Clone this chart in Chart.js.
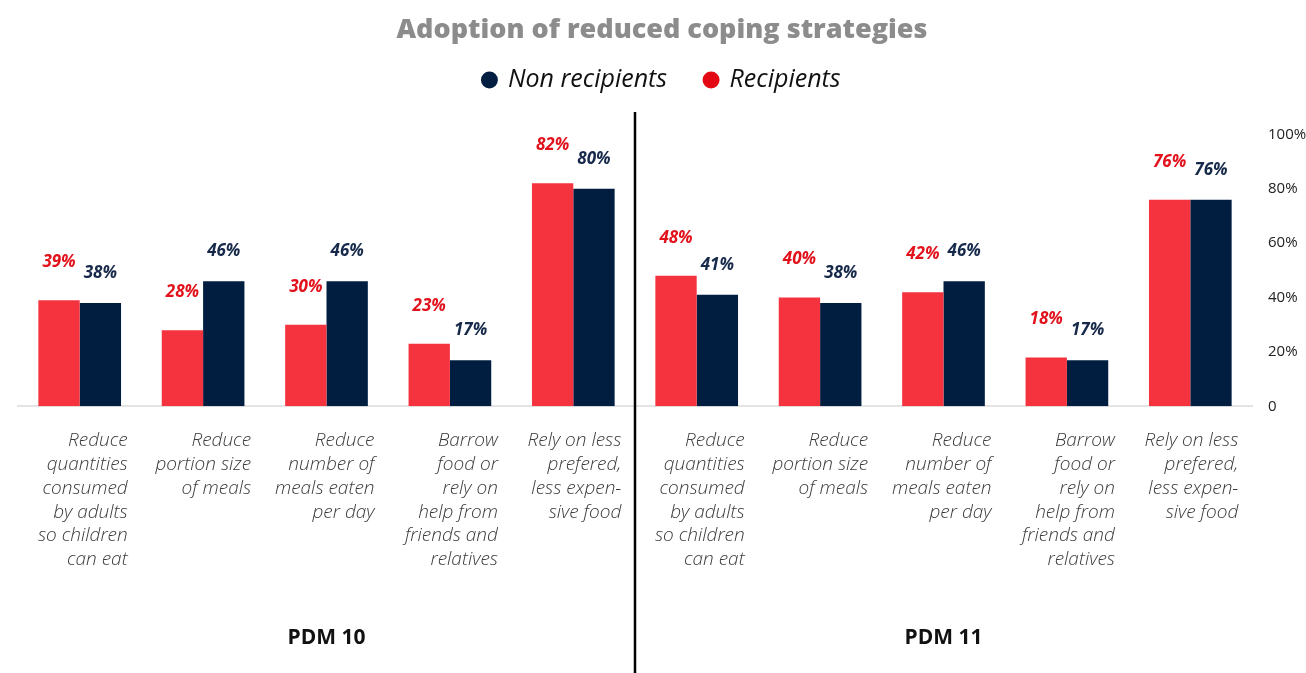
<!DOCTYPE html>
<html>
<head>
<meta charset="utf-8">
<script src="https://cdn.jsdelivr.net/npm/chart.js@4.4.0/dist/chart.umd.min.js"></script>
<style>
  html, body { margin: 0; padding: 0; background: #fff; }
  #wrap { width: 1306px; height: 673px; }
</style>
</head>
<body>
<div id="wrap"><canvas id="chart"></canvas></div>
<script>
const categories = [
  ["Reduce", "quantities", "consumed", "by adults", "so children", "can eat"],
  ["Reduce", "portion size", "of meals"],
  ["Reduce", "number of", "meals eaten", "per day"],
  ["Barrow", "food or", "rely on", "help from", "friends and", "relatives"],
  ["Rely on less", "prefered,", "less expen-", "sive food"],
  ["Reduce", "quantities", "consumed", "by adults", "so children", "can eat"],
  ["Reduce", "portion size", "of meals"],
  ["Reduce", "number of", "meals eaten", "per day"],
  ["Barrow", "food or", "rely on", "help from", "friends and", "relatives"],
  ["Rely on less", "prefered,", "less expen-", "sive food"]
];
const recipients = [39, 28, 30, 23, 82, 48, 40, 42, 18, 76];
const nonRecipients = [38, 46, 46, 17, 80, 41, 38, 46, 17, 76];
const groupLabels = ["PDM 10", "PDM 11"];

const RED = "#f5333f";
const NAVY = "#011e41";

// value labels above each bar
const valueLabels = {
  id: "valueLabels",
  afterDatasetsDraw(chart) {
    const ctx = chart.ctx;
    ctx.save();
    ctx.font = "italic bold 17px 'Open Sans'";
    ctx.textAlign = "center";
    ctx.textBaseline = "middle";
    chart.data.datasets.forEach((ds, i) => {
      const meta = chart.getDatasetMeta(i);
      ctx.fillStyle = ds.labelColor;
      meta.data.forEach((bar, j) => {
        ctx.fillText(ds.data[j] + "%", bar.x, bar.y - ds.labelGap);
      });
    });
    ctx.restore();
  }
};

// divider and PDM group names
const groups = {
  id: "groups",
  afterDraw(chart) {
    const ctx = chart.ctx;
    const x = chart.scales.x;
    const mid = (x.getPixelForValue(4) + x.getPixelForValue(5)) / 2;
    ctx.save();
    ctx.strokeStyle = "#000";
    ctx.lineWidth = 2.5;
    ctx.beginPath();
    ctx.moveTo(mid, 112);
    ctx.lineTo(mid, chart.height);
    ctx.stroke();
    ctx.font = "bold 21px 'Open Sans'";
    ctx.fillStyle = "#111";
    ctx.textAlign = "center";
    ctx.textBaseline = "middle";
    ctx.fillText(groupLabels[0], x.getPixelForValue(2), 638);
    ctx.fillText(groupLabels[1], x.getPixelForValue(7), 638);
    ctx.restore();
  }
};

// extra room under the legend
const legendGap = {
  id: "legendGap",
  beforeInit(chart) {
    const fit = chart.legend.fit;
    chart.legend.fit = function () {
      fit.bind(chart.legend)();
      this.height += 32;
    };
  }
};

new Chart(document.getElementById("chart"), {
  type: "bar",
  data: {
    labels: categories,
    datasets: [
      {
        label: "Recipients",
        data: recipients,
        backgroundColor: RED,
        legendColor: "#e30613",
        labelColor: "#e1121c",
        labelGap: 38,
        categoryPercentage: 0.67,
        barPercentage: 1.0
      },
      {
        label: "Non recipients",
        data: nonRecipients,
        backgroundColor: NAVY,
        legendColor: NAVY,
        labelColor: "#16294a",
        labelGap: 30,
        categoryPercentage: 0.67,
        barPercentage: 1.0
      }
    ]
  },
  options: {
    responsive: true,
    maintainAspectRatio: false,
    animation: false,
    layout: { padding: { left: 18, right: 0, top: 0, bottom: 87 } },
    plugins: {
      title: {
        display: true,
        text: "Adoption of reduced coping strategies",
        color: "#8c8c8c",
        font: { family: "'Open Sans'", size: 27, weight: 800 },
        padding: { top: 14, bottom: -17 }
      },
      legend: {
        display: true,
        reverse: true,
        labels: {
          usePointStyle: true,
          pointStyle: "circle",
          boxWidth: 12,
          boxHeight: 12,
          padding: 38,
          color: "#111",
          font: { family: "'Open Sans'", size: 25, style: "italic" },
          generateLabels(chart) {
            const items = Chart.defaults.plugins.legend.labels.generateLabels(chart);
            items.forEach((it) => {
              const c = chart.data.datasets[it.datasetIndex].legendColor;
              it.fillStyle = c;
              it.strokeStyle = c;
            });
            return items;
          }
        }
      },
      tooltip: { enabled: false }
    },
    scales: {
      x: {
        grid: { display: false },
        border: { display: true, color: "#e4e4e4", width: 2 },
        afterFit(scale) {
          scale.paddingLeft = 0;
          scale.paddingRight = 0;
        },
        ticks: {
          autoSkip: false,
          maxRotation: 0,
          minRotation: 0,
          align: "end",
          labelOffset: 48,
          padding: 14,
          color: "#3a3a3a",
          font: { family: "'Open Sans'", size: 19, style: "italic", weight: 300, lineHeight: 1.26 }
        }
      },
      y: {
        position: "right",
        min: 0,
        max: 100,
        grid: { display: false, drawTicks: false },
        border: { display: false },
        afterFit(scale) {
          scale.width = 54;
        },
        ticks: {
          stepSize: 20,
          padding: 16,
          color: "#222",
          font: { family: "'Open Sans'", size: 15 },
          callback: (v) => (v === 0 ? "0" : v + "%")
        }
      }
    }
  },
  plugins: [valueLabels, groups, legendGap]
});
</script>
</body>
</html>
